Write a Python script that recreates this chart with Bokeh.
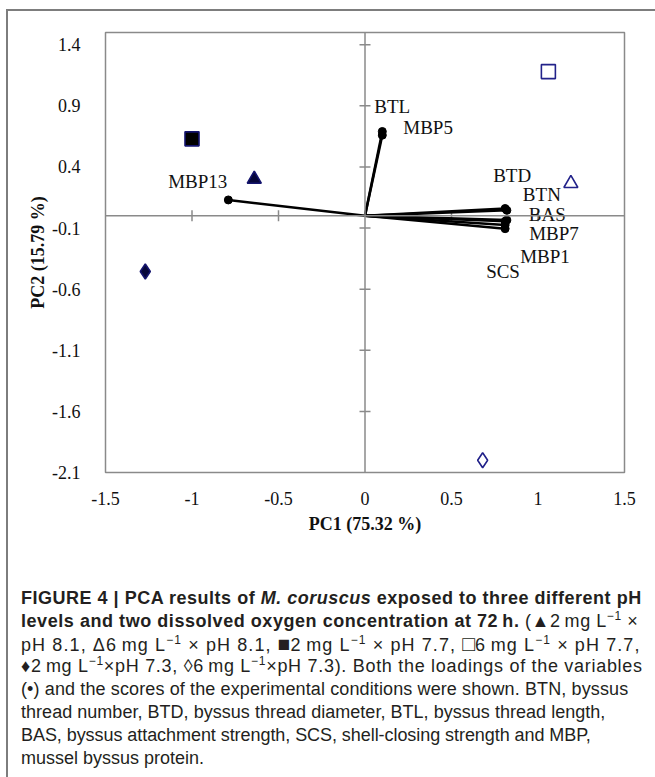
import math
from bokeh.plotting import figure
from bokeh.models import ColumnDataSource, Span, FixedTicker, Div, Range1d
from bokeh.layouts import column
from bokeh.embed import file_html
from bokeh.resources import INLINE
from bokeh.core.properties import value

# ---- data ----
variables = ["BTL", "MBP5", "BTD", "BTN", "BAS", "MBP7", "MBP1", "SCS", "MBP13"]
load_pc1 = [0.10, 0.10, 0.81, 0.82, 0.82, 0.81, 0.81, 0.81, -0.79]
load_pc2 = [0.69, 0.66, 0.06, 0.045, -0.035, -0.045, -0.075, -0.105, 0.13]

conditions = ["2 mg/L x pH 8.1", "6 mg/L x pH 8.1", "2 mg/L x pH 7.7",
              "6 mg/L x pH 7.7", "2 mg/L x pH 7.3", "6 mg/L x pH 7.3"]
score_pc1 = [-0.64, 1.19, -1.00, 1.06, -1.27, 0.68]
score_pc2 = [0.30, 0.265, 0.63, 1.18, -0.455, -2.00]

x_ticks = [-1.5, -1.0, -0.5, 0.0, 0.5, 1.0, 1.5]
x_tick_labels = ["-1.5", "-1", "-0.5", "0", "0.5", "1", "1.5"]
y_ticks = [-2.1, -1.6, -1.1, -0.6, -0.1, 0.4, 0.9, 1.4]
y_tick_labels = ["-2.1", "-1.6", "-1.1", "-0.6", "-0.1", "0.4", "0.9", "1.4"]

# ---- styles (label placement in screen pixels) ----
label_dx = [-8, 21, -12, 16, 22, 24, 15, -19, -1]
label_dy = [-25, -8, -33, -16, -6, 12, 31, 43, -18]
label_align = ["left"] * 8 + ["right"]

marker_kind = ["triangle", "triangle", "square", "square", "diamond", "diamond"]
marker_fill = ["#06063a", None, "#000000", None, "#06063a", None]
marker_line = ["#14146e", "#22228a", "#14146e", "#22228a", "#14146e", "#22228a"]
marker_size = [14, 14, 14, 14, 15, 15]

SERIF = "Liberation Serif"
GRAY = "#8a8a8a"

p = figure(width=645, height=545, output_backend="svg", toolbar_location=None,
           x_range=Range1d(-1.5, 1.5), y_range=Range1d(-2.1, 1.5),
           min_border_left=105, min_border_top=32, min_border_right=21,
           min_border_bottom=73, background_fill_color="white",
           border_fill_color=None)
p.grid.visible = False
p.outline_line_color = GRAY
p.outline_line_width = 1.5

for ax in (p.xaxis[0], p.yaxis[0]):
    ax.axis_line_color = None
    ax.major_tick_line_color = None
    ax.minor_tick_line_color = None
    ax.major_label_text_font = SERIF
    ax.major_label_text_font_size = "18px"
    ax.major_label_text_color = "#111111"
    ax.axis_label_text_font = SERIF
    ax.axis_label_text_font_size = "18px"
    ax.axis_label_text_font_style = "bold"
    ax.axis_label_text_color = "#111111"

p.xaxis.ticker = FixedTicker(ticks=x_ticks)
p.xaxis.major_label_overrides = dict(zip(x_ticks, x_tick_labels))
p.xaxis.major_label_standoff = 13
p.xaxis.axis_label = "PC1 (75.32 %)"
p.xaxis.axis_label_standoff = 6

p.yaxis.ticker = FixedTicker(ticks=y_ticks)
p.yaxis.major_label_overrides = dict(zip(y_ticks, y_tick_labels))
p.yaxis.major_label_standoff = 19
p.yaxis.axis_label = "PC2 (15.79 %)"
p.yaxis.axis_label_standoff = 1

# centre axes through the origin
p.add_layout(Span(location=0, dimension="width", line_color=GRAY, line_width=1.5))
p.add_layout(Span(location=0, dimension="height", line_color=GRAY, line_width=1.5))
inner_x = [t for t in x_ticks if abs(t) < 1.5 and t != 0]
inner_y = [t for t in y_ticks if t > -2.1]
p.scatter(x=inner_x, y=[0] * len(inner_x), marker="dash", angle=math.pi / 2,
          size=11, line_color=GRAY, line_width=1.5)
p.scatter(x=[0] * len(inner_y), y=inner_y, marker="dash",
          size=11, line_color=GRAY, line_width=1.5)

# loadings
lsrc = ColumnDataSource(dict(x=load_pc1, y=load_pc2, name=variables,
                             dx=label_dx, dy=label_dy, align=label_align,
                             x0=[0] * len(variables), y0=[0] * len(variables)))
p.segment(x0="x0", y0="y0", x1="x", y1="y", source=lsrc,
          line_color="black", line_width=2.5)
p.scatter(x="x", y="y", source=lsrc, size=8, fill_color="black", line_color="black")
p.text(x="x", y="y", text="name", source=lsrc, x_offset="dx", y_offset="dy",
       text_align="align", text_baseline="middle", text_font=value(SERIF),
       text_font_size="19px", text_color="#111111")

# scores
ssrc = ColumnDataSource(dict(x=score_pc1, y=score_pc2, m=marker_kind,
                             fc=marker_fill, lc=marker_line, s=marker_size))
p.scatter(x="x", y="y", marker="m", source=ssrc, size="s",
          fill_color="fc", line_color="lc", line_width=1.6)

BIG = '<span style="font-size:21px;letter-spacing:0;">{}</span>'
caption_lines = [
    ("<b>FIGURE 4 | PCA results of <i>M. coruscus</i> exposed to three different pH</b>", 0.51),
    ("<b>levels and two dissolved oxygen concentration at 72&#8201;h.</b> (&#9650;2&#8201;mg L<sup>&#8722;1</sup> &#215;", 0.55),
    ("pH 8.1, &#916;6&#8201;mg L<sup>&#8722;1</sup> &#215; pH 8.1, " + BIG.format("&#9632;")
     + "2&#8201;mg L<sup>&#8722;1</sup> &#215; pH 7.7, " + BIG.format("&#9633;")
     + "6&#8201;mg L<sup>&#8722;1</sup> &#215; pH 7.7,", 1.1),
    ("&#9830;2&#8201;mg L<sup>&#8722;1</sup>&#215;pH 7.3, &#9674;6&#8201;mg L<sup>&#8722;1</sup>&#215;pH 7.3). Both the loadings of the variables", 0.7),
    ("(&#8226;) and the scores of the experimental conditions were shown. BTN, byssus", 0.12),
    ("thread number, BTD, byssus thread diameter, BTL, byssus thread length,", 0.03),
    ("BAS, byssus attachment strength, SCS, shell-closing strength and MBP,", -0.06),
    ("mussel byssus protein.", 0.0),
]
line_html = "".join(
    f'<div style="white-space:nowrap;height:22.8px;line-height:22.8px;letter-spacing:{ls}px;">{l}</div>'
    for l, ls in caption_lines)
frame = ('<div style="position:fixed;left:6px;top:9px;width:900px;height:900px;'
         'border-top:2px solid #7d7d7d;border-left:2px solid #7d7d7d;'
         'pointer-events:none;"></div>')
caption = Div(
    text=(frame + '<div style="padding:37px 0 0 16px;font-family:\'Liberation Sans\',Arial,sans-serif;'
          'font-size:18px;color:#231f20;">'
          '<style>sup{font-size:12px;line-height:0;vertical-align:7px;}</style>'
          + line_html + '</div>'),
    width=645, height=225)

layout = column(p, caption)

open("out.html", "w").write(file_html(layout, INLINE))
